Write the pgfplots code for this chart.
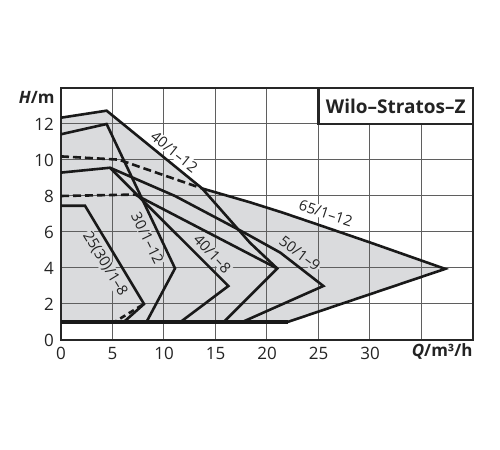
\documentclass[border=0pt]{standalone}
\usepackage{fontspec}
\setmainfont{Open Sans}
\usepackage{pgfplots}
\pgfplotsset{compat=1.18}
\definecolor{fillgray}{RGB}{218,219,221}
\definecolor{gridgray}{RGB}{95,95,95}
\definecolor{txt}{RGB}{35,35,35}
\tikzset{
  curve/.style={line width=1.3pt, black!90},
  dsh/.style={line width=1.3pt, black!90, dash pattern=on 4pt off 2pt},
  lab/.style={font=\fontsize{7.4}{8}\selectfont, text=txt, inner sep=0.4pt},
}
\begin{document}
\begin{tikzpicture}
\begin{axis}[
  set layers,
  scale only axis, width=206pt, height=126pt,
  xmin=0, xmax=40, ymin=0, ymax=14,
  xtick={0,5,...,40}, xticklabels={0,5,10,15,20,25,30,,},
  ytick={0,2,...,14}, yticklabels={0,2,4,6,8,10,12,},
  grid=major, major grid style={gridgray, line width=0.5pt},
  major tick length=0pt,
  axis line style={line width=1.2pt, black!85},
  tick label style={font=\fontsize{8.5}{10}\selectfont, text=txt},
  /pgf/number format/assume math mode=true,
  clip=false,
]
% envelope fill
\addplot[on layer=axis background, fill=fillgray, draw=none] coordinates {(0,1)(0,12.35)(4.43,12.74)(13.7,8.42)(18.35,7.65)(21.5,7.08)(25,6.4)(30,5.42)(37.3,3.95)(22,1)} -- cycle;

% labels
\node[lab, fill=white, rotate=-39] at (axis cs:11.0,10.45) {40/1–12};
\node[lab, fill=white, rotate=-18] at (axis cs:25.7,7.05) {65/1–12};
\node[lab, fill=fillgray, rotate=-37] at (axis cs:23.2,4.8) {50/1–9};
\node[lab, fill=fillgray, rotate=-47] at (axis cs:14.7,4.8) {40/1–8};
\node[lab, fill=fillgray, rotate=-64] at (axis cs:8.4,5.65) {30/1–12};
\node[lab, fill=fillgray, rotate=-59] at (axis cs:4.27,4.22) {25(30)/1–8};

% 40/1-12
\addplot[curve] coordinates {(0,12.35)(4.43,12.74)(13.7,8.42)(18.35,5.4)(21.0,3.97)(15.8,1.0)};
% dashed upper curve
\addplot[dsh] coordinates {(0,10.2)(5.6,10.02)(13.7,8.42)};
% 65/1-12
\addplot[curve] coordinates {(13.7,8.42)(18.35,7.65)(21.5,7.08)(25,6.4)(30,5.42)(37.3,3.95)(22,1)};
\addplot[line width=1.7pt, black!90] coordinates {(0,1)(22,1)};
% 30/1-12
\addplot[curve] coordinates {(0,11.43)(4.43,12.0)(11.07,3.98)(8.3,1.0)};
% 50/1-9
\addplot[curve] coordinates {(0,9.3)(4.76,9.57)(11.07,8.0)(18,5.9)(21.3,4.85)(25.47,3.0)(17.6,1.0)};
% 40/1-8
\addplot[curve] coordinates {(4.76,9.57)(16.25,3.0)(11.6,1.0)};
% dashed 8 and its continuation
\addplot[dsh] coordinates {(0,8.0)(7.2,8.08)};
\addplot[curve] coordinates {(7.2,8.08)(21.0,3.97)};
% 25(30)/1-8
\addplot[curve] coordinates {(0,7.46)(2.33,7.46)(8.06,2.0)(6.1,1.0)};
\addplot[curve, dash pattern=on 3pt off 2pt] coordinates {(7.9,1.95)(5.2,1.0)};

% title box
\draw[line width=1.2pt, black!85, fill=white] (axis cs:25,12) rectangle (axis cs:40,14);
\node[font=\bfseries\fontsize{9.5}{11}\selectfont, text=txt] at (axis cs:32.5,13) {Wilo–Stratos–Z};

% axis labels
\node[anchor=east, inner sep=0pt, font=\bfseries\fontsize{8.5}{10}\selectfont, text=txt] at ([xshift=-3pt]axis cs:0,13.45) {\textit{H}/m};
\node[anchor=base east, inner sep=0pt, font=\bfseries\fontsize{8.5}{10}\selectfont, text=txt] at ([yshift=-8.4pt]axis cs:40,0) {\textit{Q}/m³/h};
\end{axis}
\path (-30.5pt,-55pt) rectangle (219.5pt,170pt);
\end{tikzpicture}
\end{document}
